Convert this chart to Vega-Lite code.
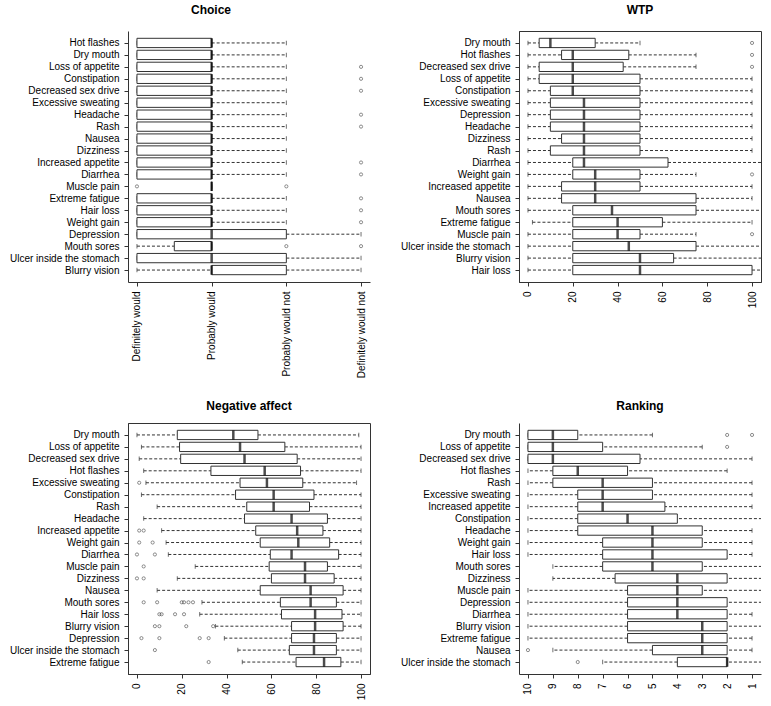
{
  "$schema": "https://vega.github.io/schema/vega-lite/v6.json",
  "padding": {"left": 9, "top": 3, "right": 0, "bottom": 0},
  "columns": 2,
  "spacing": {"row": 21, "column": 29},
  "datasets": {
    "choice": [
      {"item": "Hot flashes", "lo": 1, "q1": 1, "med": 2, "q3": 2, "hi": 3},
      {"item": "Dry mouth", "lo": 1, "q1": 1, "med": 2, "q3": 2, "hi": 3},
      {"item": "Loss of appetite", "lo": 1, "q1": 1, "med": 2, "q3": 2, "hi": 3},
      {"item": "Constipation", "lo": 1, "q1": 1, "med": 2, "q3": 2, "hi": 3},
      {"item": "Decreased sex drive", "lo": 1, "q1": 1, "med": 2, "q3": 2, "hi": 3},
      {"item": "Excessive sweating", "lo": 1, "q1": 1, "med": 2, "q3": 2, "hi": 3},
      {"item": "Headache", "lo": 1, "q1": 1, "med": 2, "q3": 2, "hi": 3},
      {"item": "Rash", "lo": 1, "q1": 1, "med": 2, "q3": 2, "hi": 3},
      {"item": "Nausea", "lo": 1, "q1": 1, "med": 2, "q3": 2, "hi": 3},
      {"item": "Dizziness", "lo": 1, "q1": 1, "med": 2, "q3": 2, "hi": 3},
      {"item": "Increased appetite", "lo": 1, "q1": 1, "med": 2, "q3": 2, "hi": 3},
      {"item": "Diarrhea", "lo": 1, "q1": 1, "med": 2, "q3": 2, "hi": 3},
      {"item": "Muscle pain", "lo": 2, "q1": 2, "med": 2, "q3": 2, "hi": 2},
      {"item": "Extreme fatigue", "lo": 1, "q1": 1, "med": 2, "q3": 2, "hi": 3},
      {"item": "Hair loss", "lo": 1, "q1": 1, "med": 2, "q3": 2, "hi": 3},
      {"item": "Weight gain", "lo": 1, "q1": 1, "med": 2, "q3": 2, "hi": 3},
      {"item": "Depression", "lo": 1, "q1": 1, "med": 2, "q3": 3, "hi": 4},
      {"item": "Mouth sores", "lo": 1, "q1": 1.5, "med": 2, "q3": 2, "hi": 2},
      {"item": "Ulcer inside the stomach", "lo": 1, "q1": 1, "med": 2, "q3": 3, "hi": 4},
      {"item": "Blurry vision", "lo": 1, "q1": 2, "med": 2, "q3": 3, "hi": 4}
    ],
    "choice_out": [
      {"item": "Loss of appetite", "value": 4},
      {"item": "Constipation", "value": 4},
      {"item": "Decreased sex drive", "value": 4},
      {"item": "Headache", "value": 4},
      {"item": "Rash", "value": 4},
      {"item": "Increased appetite", "value": 4},
      {"item": "Diarrhea", "value": 4},
      {"item": "Muscle pain", "value": 1},
      {"item": "Muscle pain", "value": 3},
      {"item": "Extreme fatigue", "value": 4},
      {"item": "Hair loss", "value": 4},
      {"item": "Weight gain", "value": 4},
      {"item": "Mouth sores", "value": 3},
      {"item": "Mouth sores", "value": 4}
    ],
    "wtp": [
      {"item": "Dry mouth", "lo": 0, "q1": 5, "med": 10, "q3": 30, "hi": 50},
      {"item": "Hot flashes", "lo": 0, "q1": 15, "med": 20, "q3": 45, "hi": 75},
      {"item": "Decreased sex drive", "lo": 0, "q1": 5, "med": 20, "q3": 42.5, "hi": 75},
      {"item": "Loss of appetite", "lo": 0, "q1": 5, "med": 20, "q3": 50, "hi": 100},
      {"item": "Constipation", "lo": 0, "q1": 10, "med": 20, "q3": 50, "hi": 100},
      {"item": "Excessive sweating", "lo": 0, "q1": 10, "med": 25, "q3": 50, "hi": 100},
      {"item": "Depression", "lo": 0, "q1": 10, "med": 25, "q3": 50, "hi": 100},
      {"item": "Headache", "lo": 0, "q1": 10, "med": 25, "q3": 50, "hi": 100},
      {"item": "Dizziness", "lo": 0, "q1": 15, "med": 25, "q3": 50, "hi": 100},
      {"item": "Rash", "lo": 0, "q1": 10, "med": 25, "q3": 50, "hi": 100},
      {"item": "Diarrhea", "lo": 0, "q1": 20, "med": 25, "q3": 62.5, "hi": 150},
      {"item": "Weight gain", "lo": 0, "q1": 20, "med": 30, "q3": 50, "hi": 75},
      {"item": "Increased appetite", "lo": 0, "q1": 15, "med": 30, "q3": 50, "hi": 100},
      {"item": "Nausea", "lo": 0, "q1": 15, "med": 30, "q3": 75, "hi": 100},
      {"item": "Mouth sores", "lo": 0, "q1": 20, "med": 37.5, "q3": 75, "hi": 150},
      {"item": "Extreme fatigue", "lo": 2, "q1": 20, "med": 40, "q3": 60, "hi": 100},
      {"item": "Muscle pain", "lo": 0, "q1": 20, "med": 40, "q3": 50, "hi": 75},
      {"item": "Ulcer inside the stomach", "lo": 0, "q1": 20, "med": 45, "q3": 75, "hi": 150},
      {"item": "Blurry vision", "lo": 0, "q1": 20, "med": 50, "q3": 65, "hi": 150},
      {"item": "Hair loss", "lo": 0, "q1": 20, "med": 50, "q3": 100, "hi": 150}
    ],
    "wtp_out": [
      {"item": "Dry mouth", "value": 100},
      {"item": "Hot flashes", "value": 100},
      {"item": "Decreased sex drive", "value": 100},
      {"item": "Weight gain", "value": 100},
      {"item": "Muscle pain", "value": 100}
    ],
    "neg": [
      {"item": "Dry mouth", "lo": 0, "q1": 18, "med": 43, "q3": 54, "hi": 99},
      {"item": "Loss of appetite", "lo": 2, "q1": 19, "med": 46, "q3": 66, "hi": 100},
      {"item": "Decreased sex drive", "lo": 1, "q1": 19.5, "med": 48, "q3": 71.5, "hi": 100},
      {"item": "Hot flashes", "lo": 3, "q1": 33, "med": 57, "q3": 73, "hi": 100},
      {"item": "Excessive sweating", "lo": 4, "q1": 46, "med": 58, "q3": 74, "hi": 98},
      {"item": "Constipation", "lo": 2, "q1": 44, "med": 61, "q3": 79, "hi": 100},
      {"item": "Rash", "lo": 9, "q1": 49, "med": 61, "q3": 77, "hi": 100},
      {"item": "Headache", "lo": 3, "q1": 48, "med": 69, "q3": 85, "hi": 100},
      {"item": "Increased appetite", "lo": 11, "q1": 53, "med": 71.5, "q3": 83, "hi": 100},
      {"item": "Weight gain", "lo": 13, "q1": 55, "med": 72, "q3": 86, "hi": 100},
      {"item": "Diarrhea", "lo": 14, "q1": 59.5, "med": 69, "q3": 90, "hi": 100},
      {"item": "Muscle pain", "lo": 26, "q1": 59, "med": 75, "q3": 85, "hi": 100},
      {"item": "Dizziness", "lo": 18, "q1": 60, "med": 75, "q3": 88, "hi": 100},
      {"item": "Nausea", "lo": 9, "q1": 55, "med": 77.5, "q3": 92, "hi": 100},
      {"item": "Mouth sores", "lo": 29, "q1": 64, "med": 77.5, "q3": 89, "hi": 100},
      {"item": "Hair loss", "lo": 28, "q1": 64.5, "med": 79.5, "q3": 91.5, "hi": 100},
      {"item": "Blurry vision", "lo": 35, "q1": 69, "med": 79.5, "q3": 92, "hi": 100},
      {"item": "Depression", "lo": 39, "q1": 69, "med": 79, "q3": 89, "hi": 100},
      {"item": "Ulcer inside the stomach", "lo": 45, "q1": 68, "med": 79, "q3": 89, "hi": 100},
      {"item": "Extreme fatigue", "lo": 47, "q1": 71, "med": 83.5, "q3": 91, "hi": 100}
    ],
    "neg_out": [
      {"item": "Excessive sweating", "value": 1},
      {"item": "Increased appetite", "value": 1},
      {"item": "Increased appetite", "value": 3},
      {"item": "Weight gain", "value": 1},
      {"item": "Weight gain", "value": 7},
      {"item": "Diarrhea", "value": 0},
      {"item": "Diarrhea", "value": 8},
      {"item": "Muscle pain", "value": 3},
      {"item": "Dizziness", "value": 0},
      {"item": "Dizziness", "value": 3},
      {"item": "Mouth sores", "value": 3},
      {"item": "Mouth sores", "value": 9},
      {"item": "Mouth sores", "value": 20},
      {"item": "Mouth sores", "value": 21},
      {"item": "Mouth sores", "value": 23},
      {"item": "Mouth sores", "value": 25},
      {"item": "Hair loss", "value": 10},
      {"item": "Hair loss", "value": 11},
      {"item": "Hair loss", "value": 17},
      {"item": "Hair loss", "value": 21},
      {"item": "Blurry vision", "value": 8},
      {"item": "Blurry vision", "value": 10},
      {"item": "Blurry vision", "value": 22},
      {"item": "Blurry vision", "value": 34},
      {"item": "Depression", "value": 2},
      {"item": "Depression", "value": 10},
      {"item": "Depression", "value": 28},
      {"item": "Depression", "value": 32},
      {"item": "Ulcer inside the stomach", "value": 8},
      {"item": "Extreme fatigue", "value": 32}
    ],
    "rank": [
      {"item": "Dry mouth", "lo": 5, "q1": 8, "med": 9, "q3": 10, "hi": 10},
      {"item": "Loss of appetite", "lo": 3, "q1": 7, "med": 9, "q3": 10, "hi": 10},
      {"item": "Decreased sex drive", "lo": 1, "q1": 5.5, "med": 9, "q3": 10, "hi": 10},
      {"item": "Hot flashes", "lo": 2, "q1": 6, "med": 8, "q3": 9, "hi": 10},
      {"item": "Rash", "lo": 1, "q1": 5, "med": 7, "q3": 9, "hi": 10},
      {"item": "Excessive sweating", "lo": 1, "q1": 5, "med": 7, "q3": 8, "hi": 10},
      {"item": "Increased appetite", "lo": 1, "q1": 4.5, "med": 7, "q3": 8, "hi": 10},
      {"item": "Constipation", "lo": 0, "q1": 4, "med": 6, "q3": 8, "hi": 10},
      {"item": "Headache", "lo": 1, "q1": 3, "med": 5, "q3": 8, "hi": 10},
      {"item": "Weight gain", "lo": 1, "q1": 3, "med": 5, "q3": 7, "hi": 10},
      {"item": "Hair loss", "lo": 1, "q1": 2, "med": 5, "q3": 7, "hi": 10},
      {"item": "Mouth sores", "lo": 0, "q1": 3, "med": 5, "q3": 7, "hi": 9},
      {"item": "Dizziness", "lo": 0, "q1": 2, "med": 4, "q3": 6.5, "hi": 9},
      {"item": "Muscle pain", "lo": 0, "q1": 3, "med": 4, "q3": 6, "hi": 10},
      {"item": "Depression", "lo": 0, "q1": 2, "med": 4, "q3": 6, "hi": 10},
      {"item": "Diarrhea", "lo": 1, "q1": 2, "med": 4, "q3": 6, "hi": 10},
      {"item": "Blurry vision", "lo": 0, "q1": 2, "med": 3, "q3": 6, "hi": 10},
      {"item": "Extreme fatigue", "lo": 1, "q1": 2, "med": 3, "q3": 6, "hi": 10},
      {"item": "Nausea", "lo": 1, "q1": 2, "med": 3, "q3": 5, "hi": 9},
      {"item": "Ulcer inside the stomach", "lo": 0, "q1": 2, "med": 2, "q3": 4, "hi": 7}
    ],
    "rank_out": [
      {"item": "Dry mouth", "value": 2},
      {"item": "Dry mouth", "value": 1},
      {"item": "Loss of appetite", "value": 2},
      {"item": "Nausea", "value": 10},
      {"item": "Ulcer inside the stomach", "value": 8}
    ]
  },
  "concat": [
    {
      "title": {"text": "Choice", "dx": -38, "offset": 14},
      "width": 242, "height": 251,
      "view": {"stroke": null},
      "data": {"name": "choice"},
      "encoding": {"y": {"field": "item", "type": "nominal", "title": null, "scale": {"type": "point", "padding": 1.3, "domain": ["Hot flashes", "Dry mouth", "Loss of appetite", "Constipation", "Decreased sex drive", "Excessive sweating", "Headache", "Rash", "Nausea", "Dizziness", "Increased appetite", "Diarrhea", "Muscle pain", "Extreme fatigue", "Hair loss", "Weight gain", "Depression", "Mouth sores", "Ulcer inside the stomach", "Blurry vision"]}}},
      "layer": [
        {"mark": {"type": "rule", "strokeDash": [3, 2], "color": "#333", "clip": true}, "encoding": {"x": {"field": "lo", "type": "quantitative", "title": null, "scale": {"domain": [0.88, 4.12], "nice": false, "zero": false}, "axis": {"values": [1, 2, 3, 4], "tickCount": 12, "labelOverlap": false, "labelExpr": "['', 'Definitely would', 'Probably would', 'Probably would not', 'Definitely would not'][datum.value]"}}, "x2": {"field": "q1"}}},
        {"mark": {"type": "rule", "strokeDash": [3, 2], "color": "#333", "clip": true}, "encoding": {"x": {"field": "q3", "type": "quantitative", "title": null}, "x2": {"field": "hi"}}},
        {"mark": {"type": "tick", "size": 4.5, "thickness": 1, "color": "#333", "clip": true}, "encoding": {"x": {"field": "lo", "type": "quantitative", "title": null}}},
        {"mark": {"type": "tick", "size": 4.5, "thickness": 1, "color": "#333", "clip": true}, "encoding": {"x": {"field": "hi", "type": "quantitative", "title": null}}},
        {"mark": {"type": "bar", "fill": "white", "stroke": "#333", "strokeWidth": 1, "size": 9.3, "clip": true}, "encoding": {"x": {"field": "q1", "type": "quantitative", "title": null}, "x2": {"field": "q3"}}},
        {"mark": {"type": "tick", "size": 9.3, "thickness": 2.5, "color": "black", "clip": true}, "encoding": {"x": {"field": "med", "type": "quantitative", "title": null}}},
        {"data": {"name": "choice_out"}, "mark": {"type": "point", "filled": false, "size": 10, "color": "#333", "strokeWidth": 0.8, "clip": true}, "encoding": {"x": {"field": "value", "type": "quantitative", "title": null}}}
      ]
    },
    {
      "title": {"text": "WTP", "offset": 14},
      "width": 242, "height": 251,
      "view": {"stroke": "#333"},
      "data": {"name": "wtp"},
      "encoding": {"y": {"field": "item", "type": "nominal", "title": null, "scale": {"type": "point", "padding": 1.3, "domain": ["Dry mouth", "Hot flashes", "Decreased sex drive", "Loss of appetite", "Constipation", "Excessive sweating", "Depression", "Headache", "Dizziness", "Rash", "Diarrhea", "Weight gain", "Increased appetite", "Nausea", "Mouth sores", "Extreme fatigue", "Muscle pain", "Ulcer inside the stomach", "Blurry vision", "Hair loss"]}}},
      "layer": [
        {"mark": {"type": "rule", "strokeDash": [3, 2], "color": "#333", "clip": true}, "encoding": {"x": {"field": "lo", "type": "quantitative", "title": null, "scale": {"domain": [-4, 104], "nice": false, "zero": false}, "axis": {"values": [0, 20, 40, 60, 80, 100], "tickCount": 12, "labelOverlap": false}}, "x2": {"field": "q1"}}},
        {"mark": {"type": "rule", "strokeDash": [3, 2], "color": "#333", "clip": true}, "encoding": {"x": {"field": "q3", "type": "quantitative", "title": null}, "x2": {"field": "hi"}}},
        {"mark": {"type": "tick", "size": 4.5, "thickness": 1, "color": "#333", "clip": true}, "encoding": {"x": {"field": "lo", "type": "quantitative", "title": null}}},
        {"mark": {"type": "tick", "size": 4.5, "thickness": 1, "color": "#333", "clip": true}, "encoding": {"x": {"field": "hi", "type": "quantitative", "title": null}}},
        {"mark": {"type": "bar", "fill": "white", "stroke": "#333", "strokeWidth": 1, "size": 9.3, "clip": true}, "encoding": {"x": {"field": "q1", "type": "quantitative", "title": null}, "x2": {"field": "q3"}}},
        {"mark": {"type": "tick", "size": 9.3, "thickness": 2.5, "color": "black", "clip": true}, "encoding": {"x": {"field": "med", "type": "quantitative", "title": null}}},
        {"data": {"name": "wtp_out"}, "mark": {"type": "point", "filled": false, "size": 10, "color": "#333", "strokeWidth": 0.8, "clip": true}, "encoding": {"x": {"field": "value", "type": "quantitative", "title": null}}}
      ]
    },
    {
      "title": "Negative affect",
      "width": 242, "height": 251,
      "view": {"stroke": "#333"},
      "data": {"name": "neg"},
      "encoding": {"y": {"field": "item", "type": "nominal", "title": null, "scale": {"type": "point", "padding": 1.3, "domain": ["Dry mouth", "Loss of appetite", "Decreased sex drive", "Hot flashes", "Excessive sweating", "Constipation", "Rash", "Headache", "Increased appetite", "Weight gain", "Diarrhea", "Muscle pain", "Dizziness", "Nausea", "Mouth sores", "Hair loss", "Blurry vision", "Depression", "Ulcer inside the stomach", "Extreme fatigue"]}}},
      "layer": [
        {"mark": {"type": "rule", "strokeDash": [3, 2], "color": "#333", "clip": true}, "encoding": {"x": {"field": "lo", "type": "quantitative", "title": null, "scale": {"domain": [-4, 104], "nice": false, "zero": false}, "axis": {"values": [0, 20, 40, 60, 80, 100], "tickCount": 12, "labelOverlap": false}}, "x2": {"field": "q1"}}},
        {"mark": {"type": "rule", "strokeDash": [3, 2], "color": "#333", "clip": true}, "encoding": {"x": {"field": "q3", "type": "quantitative", "title": null}, "x2": {"field": "hi"}}},
        {"mark": {"type": "tick", "size": 4.5, "thickness": 1, "color": "#333", "clip": true}, "encoding": {"x": {"field": "lo", "type": "quantitative", "title": null}}},
        {"mark": {"type": "tick", "size": 4.5, "thickness": 1, "color": "#333", "clip": true}, "encoding": {"x": {"field": "hi", "type": "quantitative", "title": null}}},
        {"mark": {"type": "bar", "fill": "white", "stroke": "#333", "strokeWidth": 1, "size": 9.3, "clip": true}, "encoding": {"x": {"field": "q1", "type": "quantitative", "title": null}, "x2": {"field": "q3"}}},
        {"mark": {"type": "tick", "size": 9.3, "thickness": 2.5, "color": "black", "clip": true}, "encoding": {"x": {"field": "med", "type": "quantitative", "title": null}}},
        {"data": {"name": "neg_out"}, "mark": {"type": "point", "filled": false, "size": 10, "color": "#333", "strokeWidth": 0.8, "clip": true}, "encoding": {"x": {"field": "value", "type": "quantitative", "title": null}}}
      ]
    },
    {
      "title": "Ranking",
      "width": 242, "height": 251,
      "view": {"stroke": null},
      "data": {"name": "rank"},
      "encoding": {"y": {"field": "item", "type": "nominal", "title": null, "scale": {"type": "point", "padding": 1.3, "domain": ["Dry mouth", "Loss of appetite", "Decreased sex drive", "Hot flashes", "Rash", "Excessive sweating", "Increased appetite", "Constipation", "Headache", "Weight gain", "Hair loss", "Mouth sores", "Dizziness", "Muscle pain", "Depression", "Diarrhea", "Blurry vision", "Extreme fatigue", "Nausea", "Ulcer inside the stomach"]}}},
      "layer": [
        {"mark": {"type": "rule", "strokeDash": [3, 2], "color": "#333", "clip": true}, "encoding": {"x": {"field": "lo", "type": "quantitative", "title": null, "scale": {"domain": [0.64, 10.36], "reverse": true, "nice": false, "zero": false}, "axis": {"values": [1, 2, 3, 4, 5, 6, 7, 8, 9, 10], "tickCount": 12, "labelOverlap": false}}, "x2": {"field": "q1"}}},
        {"mark": {"type": "rule", "strokeDash": [3, 2], "color": "#333", "clip": true}, "encoding": {"x": {"field": "q3", "type": "quantitative", "title": null}, "x2": {"field": "hi"}}},
        {"mark": {"type": "tick", "size": 4.5, "thickness": 1, "color": "#333", "clip": true}, "encoding": {"x": {"field": "lo", "type": "quantitative", "title": null}}},
        {"mark": {"type": "tick", "size": 4.5, "thickness": 1, "color": "#333", "clip": true}, "encoding": {"x": {"field": "hi", "type": "quantitative", "title": null}}},
        {"mark": {"type": "bar", "fill": "white", "stroke": "#333", "strokeWidth": 1, "size": 9.3, "clip": true}, "encoding": {"x": {"field": "q1", "type": "quantitative", "title": null}, "x2": {"field": "q3"}}},
        {"mark": {"type": "tick", "size": 9.3, "thickness": 2.5, "color": "black", "clip": true}, "encoding": {"x": {"field": "med", "type": "quantitative", "title": null}}},
        {"data": {"name": "rank_out"}, "mark": {"type": "point", "filled": false, "size": 10, "color": "#333", "strokeWidth": 0.8, "clip": true}, "encoding": {"x": {"field": "value", "type": "quantitative", "title": null}}}
      ]
    }
  ],
  "config": {
    "font": "Liberation Sans",
    "axis": {"labelFont": "Liberation Sans", "labelFontSize": 10, "labelColor": "black", "tickColor": "#333", "domainColor": "#333", "grid": false, "tickSize": 4, "labelPadding": 5, "labelOverlap": false, "labelFlush": false},
    "axisX": {"labelAngle": 270},
    "axisY": {"labelLimit": 300},
    "title": {"font": "Liberation Sans", "fontSize": 12, "fontWeight": "bold", "color": "black", "offset": 10, "frame": "group", "anchor": "middle"}
  }
}
